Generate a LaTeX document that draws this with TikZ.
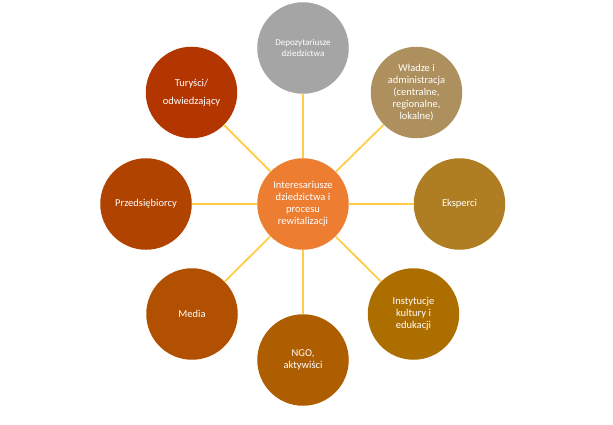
\documentclass[tikz,border=0pt]{standalone}
\usepackage{fontspec}
\setmainfont{Carlito}
\definecolor{cCenter}{HTML}{ED7D31}
\definecolor{cDepo}{HTML}{A5A5A5}
\definecolor{cWladze}{HTML}{AE905E}
\definecolor{cEksp}{HTML}{AF7E22}
\definecolor{cInst}{HTML}{AD6E00}
\definecolor{cNgo}{HTML}{AE5D00}
\definecolor{cMedia}{HTML}{B05000}
\definecolor{cPrzed}{HTML}{B04300}
\definecolor{cTur}{HTML}{B33600}
\definecolor{cLine}{HTML}{FFCC45}
\begin{document}
\begin{tikzpicture}[x=1pt,y=-1pt,
  bub/.style={circle, minimum size=91.5pt, inner sep=0pt, text=white, align=center, font=\fontsize{10.5}{12}\selectfont},
  link/.style={cLine, line width=1.8pt}]
\useasboundingbox (0,0) rectangle (613,425);
\node[bub, fill=cCenter] (c) at (303,204) {Interesariusze\\dziedzictwa i\\procesu\\rewitalizacji};
\node[bub, fill=cDepo, font=\fontsize{9}{11}\selectfont] (depo) at (303,48) {Depozytariusze\\dziedzictwa};
\node[bub, fill=cWladze] (wl) at (416.5,92.5) {Władze i\\administracja\\(centralne,\\regionalne,\\lokalne)};
\node[bub, fill=cEksp] (eks) at (459.5,204) {Eksperci};
\node[bub, fill=cInst] (inst) at (413.5,314) {Instytucje\\kultury i\\edukacji};
\node[bub, fill=cNgo] (ngo) at (303,360) {NGO,\\aktywiści};
\node[bub, fill=cMedia] (med) at (192,314) {Media};
\node[bub, fill=cPrzed] (prz) at (146,204) {Przedsiębiorcy};
\node[bub, fill=cTur, font=\fontsize{10.5}{18}\selectfont] (tur) at (191.5,92.5) {Turyści/\\odwiedzający};
\foreach \n in {depo,wl,eks,inst,ngo,med,prz,tur}{
  \draw[link] (c) -- (\n);
}
\end{tikzpicture}
\end{document}
